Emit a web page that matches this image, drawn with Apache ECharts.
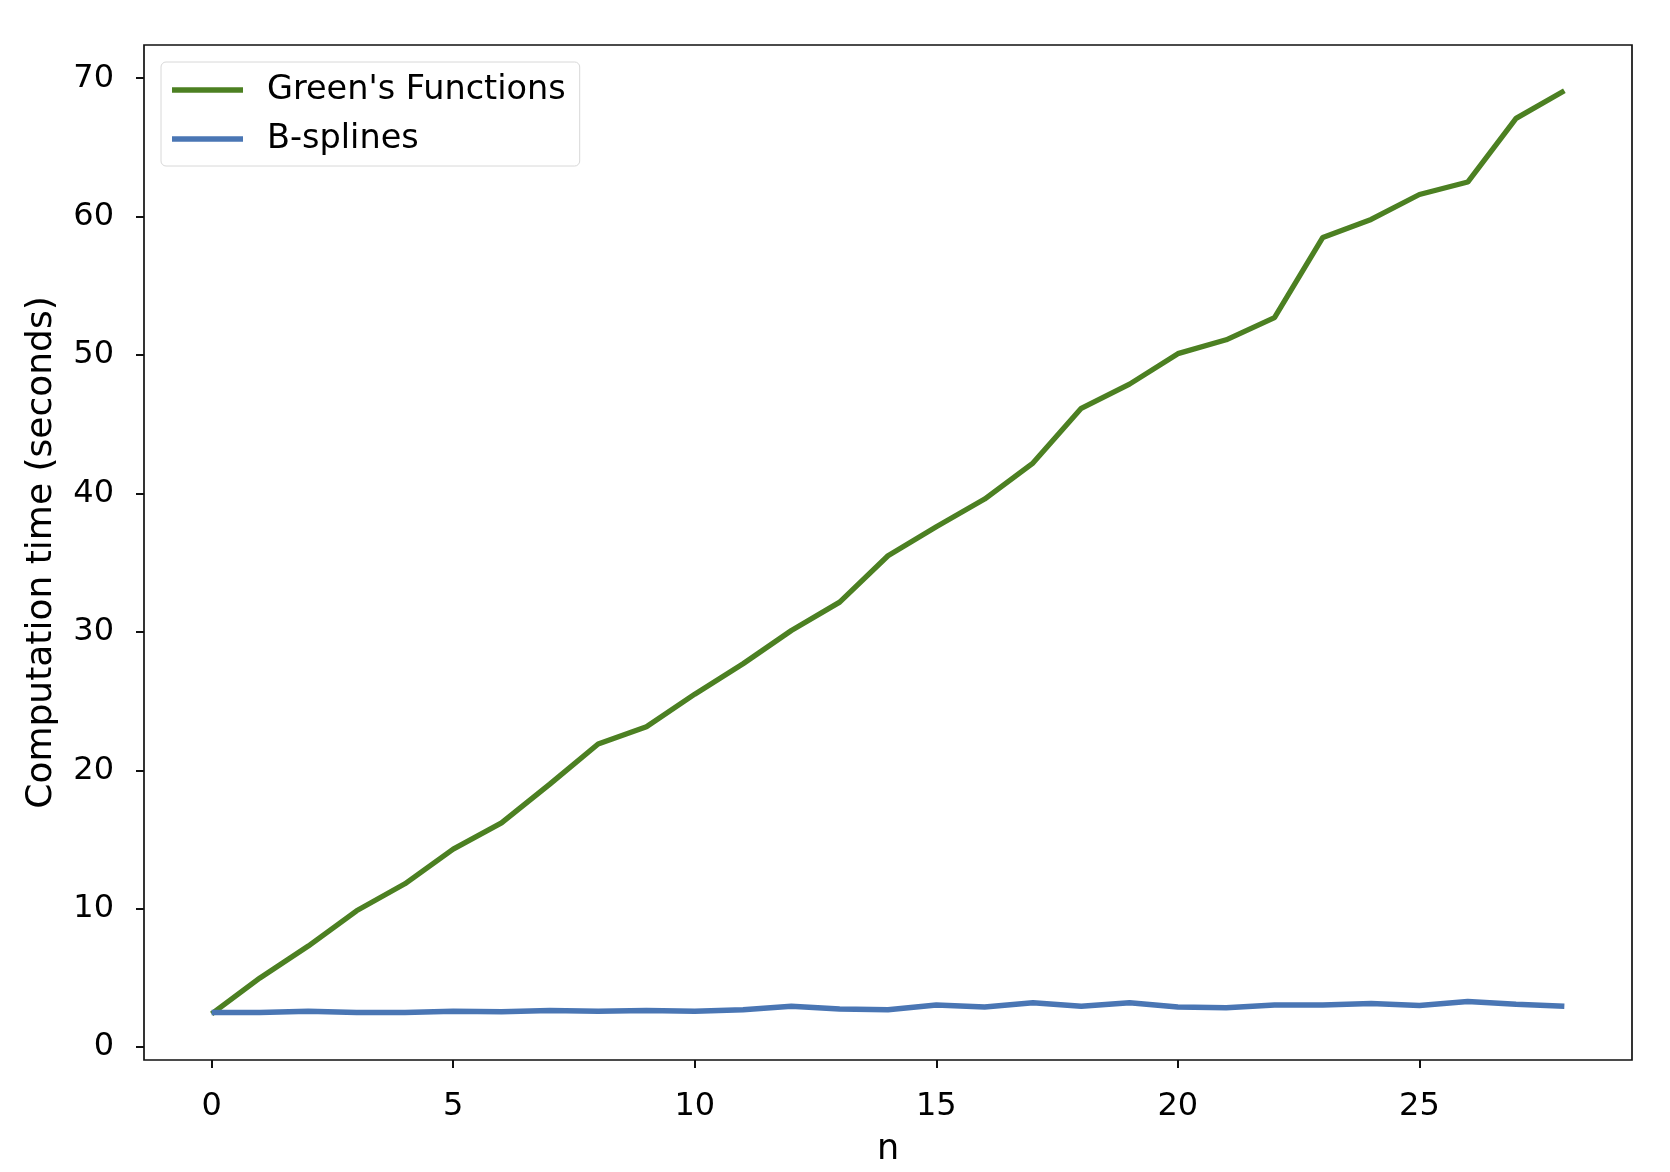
<!DOCTYPE html>
<html>
<head>
<meta charset="utf-8">
<script src="https://cdn.jsdelivr.net/npm/echarts@6/dist/echarts.min.js"></script>
<style>
html,body{margin:0;padding:0;background:#fff;}
#chart{width:1670px;height:1172px;}
</style>
</head>
<body>
<div id="chart"></div>
<script>
const nValues = [0,1,2,3,4,5,6,7,8,9,10,11,12,13,14,15,16,17,18,19,20,21,22,23,24,25,26,27,28];
const greensFunctions = [2.4,5.0,7.3,9.85,11.8,14.3,16.2,19.0,21.9,23.15,25.5,27.7,30.1,32.15,35.5,37.6,39.6,42.2,46.15,47.9,50.1,51.1,52.7,58.5,59.8,61.6,62.5,67.1,69.1];
const bSplines = [2.5,2.5,2.6,2.5,2.5,2.6,2.55,2.65,2.6,2.65,2.6,2.7,2.95,2.75,2.7,3.05,2.9,3.2,2.95,3.2,2.9,2.85,3.05,3.05,3.15,3.0,3.3,3.1,2.95];
const xTicks = [0,5,10,15,20,25];
const yTicks = [0,10,20,30,40,50,60,70];
const seriesNames = ["Green's Functions", "B-splines"];

const font = 'DejaVu Sans';
const chart = echarts.init(document.getElementById('chart'), null, {renderer:'canvas'});
const toPairs = arr => nValues.map((n,i)=>[n, arr[i]]);

chart.setOption({
  animation:false,
  backgroundColor:'#fff',
  grid:{left:144,top:45,width:1488,height:1015,show:true,borderColor:'#111',borderWidth:1.7,backgroundColor:'transparent',
        containLabel:false, outerBoundsMode:'none'},
  legend:{
    orient:'vertical', left:161, top:62,
    data:seriesNames,
    icon:'rect', itemWidth:71, itemHeight:5.5, itemGap:15,
    padding:[11,14,10,11],
    backgroundColor:'#fff', borderColor:'#d8d8d8', borderWidth:1, borderRadius:5,
    textStyle:{fontFamily:font,fontSize:33.5,color:'#000',padding:[0,0,0,19]}
  },
  xAxis:{
    type:'value', min:-1.4, max:29.4,
    name:'n', nameLocation:'middle', nameGap:72,
    nameTextStyle:{fontFamily:font,fontSize:35,color:'#000'},
    axisLine:{show:false,onZero:false},
    splitLine:{show:false},
    axisTick:{show:true,inside:false,length:8,lineStyle:{color:'#111',width:2},customValues:xTicks},
    axisLabel:{fontFamily:font,fontSize:32,color:'#000',margin:31,customValues:xTicks,formatter:v=>String(v)}
  },
  yAxis:{
    type:'value', min:-0.93, max:72.4,
    name:'Computation time (seconds)', nameLocation:'middle', nameGap:84, nameRotate:90,
    nameTextStyle:{fontFamily:font,fontSize:36,color:'#000'},
    axisLine:{show:false,onZero:false},
    splitLine:{show:false},
    axisTick:{show:true,inside:false,length:8,lineStyle:{color:'#111',width:2},customValues:yTicks},
    axisLabel:{fontFamily:font,fontSize:32,color:'#000',margin:30,padding:[8,0,0,0],customValues:yTicks,formatter:v=>String(v)}
  },
  series:[
    {name:seriesNames[0],type:'line',data:toPairs(greensFunctions),showSymbol:false,symbol:'none',
     lineStyle:{color:'#4c8022',width:5.3},itemStyle:{color:'#4c8022'}},
    {name:seriesNames[1],type:'line',data:toPairs(bSplines),showSymbol:false,symbol:'none',
     lineStyle:{color:'#4a76b4',width:5.5},itemStyle:{color:'#4a76b4'}}
  ]
});
</script>
</body>
</html>
